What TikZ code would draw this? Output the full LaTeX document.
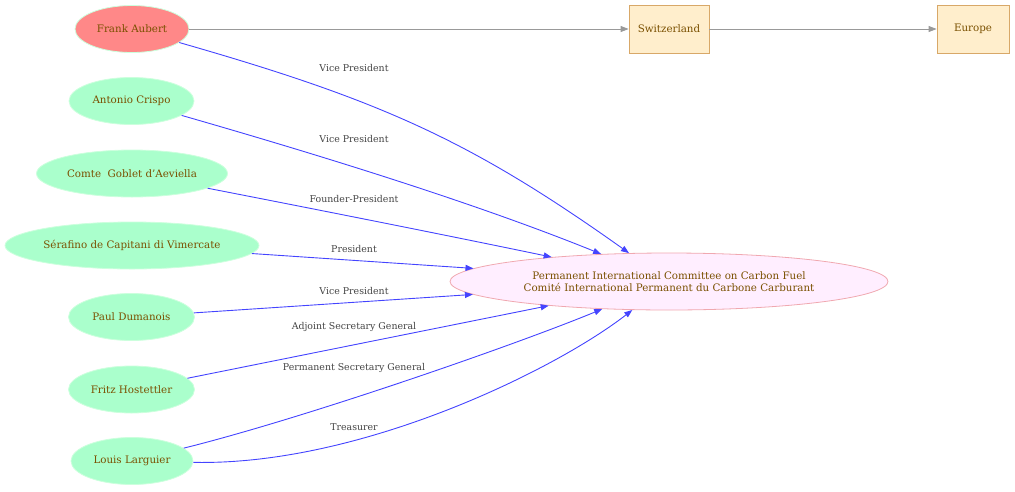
\documentclass[tikz,border=0pt]{standalone}
\usepackage{fontspec}
\setmainfont{DejaVu Serif}
\usetikzlibrary{shapes.geometric,arrows.meta}
\definecolor{txt}{HTML}{7A5000}
\definecolor{lbl}{HTML}{444444}
\definecolor{greenfill}{HTML}{AAFFCC}
\definecolor{greenline}{HTML}{CCFFDD}
\definecolor{redfill}{HTML}{FF8888}
\definecolor{bigfill}{HTML}{FFEEFF}
\definecolor{bigline}{HTML}{F0A8B0}
\definecolor{boxfill}{HTML}{FFEECC}
\definecolor{boxline}{HTML}{D8A868}
\definecolor{edgeblue}{HTML}{4444FF}
\definecolor{edgegray}{HTML}{999999}
\tikzset{
  person/.style={ellipse, draw=greenline, fill=greenfill, line width=0.8pt, inner sep=0pt,
    minimum height=47pt, text=txt, font=\fontsize{10.3}{12}\selectfont},
  place/.style={rectangle, draw=boxline, fill=boxfill, line width=0.8pt, inner sep=0pt,
    minimum height=48pt, text=txt, font=\fontsize{10.3}{12}\selectfont},
  org/.style={ellipse, draw=bigline, fill=bigfill, line width=0.8pt, inner sep=0pt,
    minimum width=438pt, minimum height=57pt, text=txt, align=center,
    font=\fontsize{10.3}{12}\selectfont},
  rel/.style={draw=edgeblue, line width=0.9pt, -{Triangle[length=8pt,width=6pt]}},
  geo/.style={draw=edgegray, line width=0.9pt, -{Triangle[length=8pt,width=6pt]}},
  elabel/.style={text=lbl, font=\fontsize{9.4}{10}\selectfont, inner sep=0pt}
}
\begin{document}
\begin{tikzpicture}[x=1pt,y=-1pt]
\useasboundingbox (0,0) rectangle (1015,491);
% nodes
\node[person, fill=redfill, minimum width=114pt] (frank) at (132,29) {Frank Aubert};
\node[person, minimum width=125pt] (antonio) at (131.5,101) {Antonio Crispo};
\node[person, minimum width=191pt] (comte) at (132,173.5) {Comte\ \ Goblet d'Aeviella};
\node[person, minimum width=254pt] (serafino) at (132,245.5) {Sérafino de Capitani di Vimercate};
\node[person, minimum width=126pt] (paul) at (131.5,317) {Paul Dumanois};
\node[person, minimum width=126pt] (fritz) at (131.5,389.5) {Fritz Hostettler};
\node[person, minimum width=122pt] (louis) at (132,461) {Louis Larguier};
\node[org] (pic) at (669,281.5) {Permanent International Committee on Carbon Fuel\\Comité International Permanent du Carbone Carburant};
\node[place, minimum width=80pt] (swiss) at (669,29) {Switzerland};
\node[place, minimum width=72pt] (europe) at (973,29) {Europe};
% geography
\draw[geo] (frank) -- (swiss);
\draw[geo] (swiss) -- (europe);
% relations
\draw[rel] (frank) .. controls (380,100) and (470,140) .. (pic);
\draw[rel] (antonio) .. controls (330,158) and (480,205) .. (pic);
\draw[rel] (comte) .. controls (340,214) and (460,238) .. (pic);
\draw[rel] (serafino) -- (pic);
\draw[rel] (paul) -- (pic);
\draw[rel] (fritz) -- (pic);
\draw[rel] (louis) .. controls (305,418) and (515,345) .. (pic);
\draw[rel] (louis) .. controls (360,466) and (555,370) .. (pic);
% labels
\node[elabel] (l1) at (354,68) {Vice President};
\node[elabel] (l2) at (354,139) {Vice President};
\node[elabel] (l3) at (354,199) {Founder-President};
\node[elabel] (l4) at (354,249) {President};
\node[elabel] (l5) at (354,291) {Vice President};
\node[elabel] (l6) at (354,327) {Adjoint Secretary General};
\node[elabel] (l7) at (354,368) {Permanent Secretary General};
\node[elabel] (l8) at (354,427) {Treasurer};
\end{tikzpicture}
\end{document}
